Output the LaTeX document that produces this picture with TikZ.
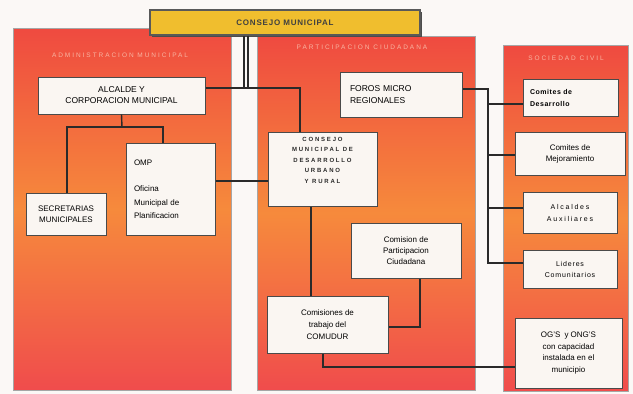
\documentclass[tikz,border=0pt]{standalone}
\usepackage{fontspec}
\setmainfont{Liberation Sans}
\definecolor{pred}{HTML}{EF4A40}
\definecolor{porange}{HTML}{F68A3C}
\definecolor{pbottom}{HTML}{F04C4C}
\definecolor{gold}{HTML}{F0BE2E}
\definecolor{hdr}{HTML}{F8B4A2}
\definecolor{boxfill}{HTML}{FAF6F2}
\definecolor{ink}{HTML}{2A2A2A}
\definecolor{bg}{HTML}{FBF8F6}
\begin{document}
\begin{tikzpicture}[x=1pt,y=-1pt,
  panel/.style={draw=gray!70, line width=0.6pt, top color=pred, bottom color=pbottom, middle color=porange, inner sep=0pt},
  hdrtext/.style={text=hdr, font=\fontsize{6.5}{8}\selectfont\addfontfeatures{LetterSpace=30}, inner sep=0pt},
  bx/.style={draw=ink!85, fill=boxfill, line width=1pt, inner sep=2pt, align=center, font=\fontsize{8}{11}\selectfont},
  conn/.style={draw=ink, line width=1.4pt}
]
\useasboundingbox (0,0) rectangle (633,394);
\fill[bg] (0,0) rectangle (633,394);

% panels
\node[panel, minimum width=218, minimum height=362] (pl) at (122,209) {};
\node[panel, minimum width=218, minimum height=354] (pm) at (366,213) {};
\node[panel, minimum width=125, minimum height=346] (pr) at (565.5,218) {};

% headers
\node[hdrtext] (hl) at (120,55) {ADMINISTRACION MUNICIPAL};
\node[hdrtext] (hm) at (362,47) {PARTICIPACION CIUDADANA};
\node[hdrtext] (hr) at (566,58) {SOCIEDAD CIVIL};

% banner
\fill[gray!60!black] (152,12) rectangle (422,37);
\node[draw=gray!70!black, line width=1.2pt, fill=gold, minimum width=270, minimum height=25, inner sep=0pt,
  font=\fontsize{8}{10}\selectfont\bfseries\addfontfeatures{LetterSpace=10}, text=black!75] (ban) at (285,22.5) {CONSEJO MUNICIPAL};

% coordinates
\coordinate (j1) at (300,88);
\coordinate (l1) at (244,88);
\coordinate (l2) at (248,88);
\coordinate (t1) at (122,127);
\coordinate (b1) at (67,127);
\coordinate (b2) at (163,127);
\coordinate (h1) at (240,181);
\coordinate (v1) at (311,250);
\coordinate (k1) at (420,327);
\coordinate (m1) at (323,367);
\coordinate (f1) at (488,89);
\coordinate (g1) at (488,104);
\coordinate (g2) at (488,155);
\coordinate (g3) at (488,208);
\coordinate (f2) at (488,263);

% boxes
\node[bx, minimum width=167, minimum height=37, font=\fontsize{8.5}{11}\selectfont] (alc) at (121.5,95.5) {ALCALDE Y\\CORPORACION MUNICIPAL};
\node[bx, minimum width=80, minimum height=42, font=\fontsize{8}{11}\selectfont] (sec) at (66,214) {SECRETARIAS\\MUNICIPALES};
\node[bx, text width=73, inner xsep=8pt, minimum height=92, align=left, font=\fontsize{8}{13.5}\selectfont] (omp) at (170.5,189) {OMP\\[13pt]Oficina\\Municipal de\\Planificacion};
\node[bx, minimum width=109, minimum height=74] (con) at (322.5,169) {};
\node[inner sep=0pt, align=center, text=ink, font=\fontsize{6}{10.5}\selectfont\bfseries\addfontfeatures{LetterSpace=30}] (cont) at (322.5,160) {CONSEJO\\MUNICIPAL DE\\DESARROLLO\\URBANO\\Y RURAL};
\node[bx, minimum width=110, minimum height=55] (cpc) at (406,250.5) {Comision de\\Participacion\\Ciudadana};
\node[bx, minimum width=121, minimum height=57, font=\fontsize{8}{12}\selectfont] (ctr) at (327.5,324.5) {Comisiones de\\trabajo del\\COMUDUR};
\node[bx, minimum width=107, minimum height=70, font=\fontsize{8}{11.7}\selectfont] (ogs) at (568.5,353) {OG'S\enspace y ONG'S\\con capacidad\\instalada en el\\municipio};
\node[bx, text width=102, inner xsep=10pt, minimum height=45, align=left, font=\fontsize{8.5}{12}\selectfont] (foros) at (401,94.5) {FOROS MICRO\\REGIONALES};
\node[bx, text width=81, inner xsep=7pt, minimum height=37, align=left, font=\fontsize{7}{12}\selectfont\bfseries\addfontfeatures{LetterSpace=8}] (cdes) at (570.5,97.5) {Comites de\\Desarrollo};
\node[bx, minimum width=110, minimum height=43] (cmej) at (570,153.5) {Comites de\\Mejoramiento};
\node[bx, minimum width=94, minimum height=41, font=\fontsize{7}{12}\selectfont\addfontfeatures{LetterSpace=25}] (aaux) at (570,212.5) {Alcaldes\\Auxiliares};
\node[bx, minimum width=94, minimum height=38, font=\fontsize{7}{11}\selectfont\addfontfeatures{LetterSpace=12}] (lid) at (570,269) {Lideres\\Comunitarios};

% connectors
\draw[conn] (j1 -| alc.east) -- (j1) -- (j1 |- con.north);
\draw[conn] (l1 |- ban.south) -- (l1);
\draw[conn] (l2 |- ban.south) -- (l2);
\draw[conn] (alc.south) -- (t1);
\draw[conn] (sec.north -| b1) -- (b1) -- (b2) -- (omp.north -| b2);
\draw[conn] (h1 -| omp.east) -- (h1 -| con.west);
\draw[conn] (v1 |- con.south) -- (v1 |- ctr.north);
\draw[conn] (k1 |- cpc.south) -- (k1) -- (k1 -| ctr.east);
\draw[conn] (m1 |- ctr.south) -- (m1) -- (m1 -| ogs.west);
\draw[conn] (f1 -| foros.east) -- (f1) -- (f2) -- (f2 -| lid.west);
\draw[conn] (g1) -- (g1 -| cdes.west);
\draw[conn] (g2) -- (g2 -| cmej.west);
\draw[conn] (g3) -- (g3 -| aaux.west);
\end{tikzpicture}
\end{document}
